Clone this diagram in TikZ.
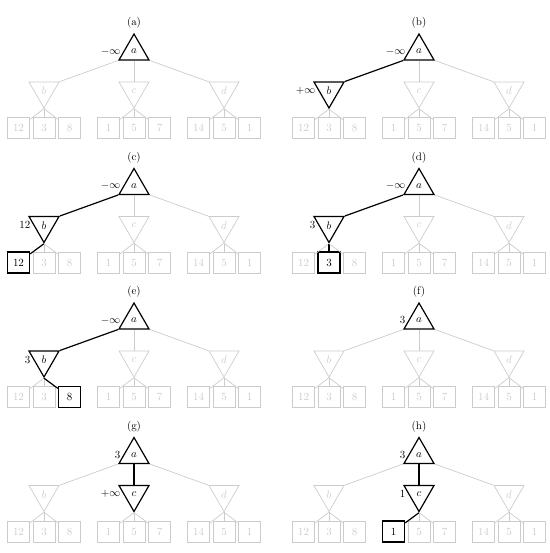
\documentclass[tikz,border=0pt,11pt]{standalone}
\usetikzlibrary{shapes.geometric}

\definecolor{faded}{gray}{0.80}

\tikzset{
  maxnode/.style={regular polygon, regular polygon sides=3, minimum size=34.6pt,
    inner sep=0pt, draw=faded, text=faded, line width=0.7pt},
  minnode/.style={maxnode, shape border rotate=180},
  leafbox/.style={rectangle, draw=faded, text=faded, minimum width=22pt,
    minimum height=21pt, inner sep=0pt, line width=0.7pt},
  link/.style={draw=faded, line width=0.7pt},
  hot/.style={draw=black, text=black, line width=1.2pt},
  every label/.style={text=black, inner sep=2.8pt},
  % per-panel hooks, empty unless a panel highlights the element
  tri a/.style={}, tri b/.style={}, tri c/.style={}, tri d/.style={},
  link ab/.style={}, link ac/.style={}, link ad/.style={},
  link 1/.style={}, link 2/.style={}, link 3/.style={},
  link 4/.style={}, link 5/.style={}, link 6/.style={},
  link 7/.style={}, link 8/.style={}, link 9/.style={},
  leaf 1/.style={}, leaf 2/.style={}, leaf 3/.style={},
  leaf 4/.style={}, leaf 5/.style={}, leaf 6/.style={},
  leaf 7/.style={}, leaf 8/.style={}, leaf 9/.style={},
}

% one game tree with its caption
\newcommand\gametree[1]{%
  \node (title) at (134,23) {(#1)};
  \node[maxnode, tri a] (a) at (134,51.3) {$a$};
  \node[minnode, tri b] (b) at (44,90.7) {$b$};
  \node[minnode, tri c] (c) at (134,90.7) {$c$};
  \node[minnode, tri d] (d) at (224,90.7) {$d$};
  \node[leafbox, leaf 1] (v1) at (18.5,128) {12};
  \node[leafbox, leaf 2] (v2) at (44,128) {3};
  \node[leafbox, leaf 3] (v3) at (69.5,128) {8};
  \node[leafbox, leaf 4] (v4) at (108.5,128) {1};
  \node[leafbox, leaf 5] (v5) at (134,128) {5};
  \node[leafbox, leaf 6] (v6) at (159.5,128) {7};
  \node[leafbox, leaf 7] (v7) at (198.5,128) {14};
  \node[leafbox, leaf 8] (v8) at (224,128) {5};
  \node[leafbox, leaf 9] (v9) at (249.5,128) {1};
  \draw[link, link ab] (a.corner 2) -- (b.corner 2);
  \draw[link, link ac] (a.side 2) -- (c.side 2);
  \draw[link, link ad] (a.corner 3) -- (d.corner 3);
  \draw[link, link 1] (b.corner 1) -- (v1);
  \draw[link, link 2] (b.corner 1) -- (v2);
  \draw[link, link 3] (b.corner 1) -- (v3);
  \draw[link, link 4] (c.corner 1) -- (v4);
  \draw[link, link 5] (c.corner 1) -- (v5);
  \draw[link, link 6] (c.corner 1) -- (v6);
  \draw[link, link 7] (d.corner 1) -- (v7);
  \draw[link, link 8] (d.corner 1) -- (v8);
  \draw[link, link 9] (d.corner 1) -- (v9);
}

\begin{document}
\begin{tikzpicture}[x=1pt, y=-1pt]
  \useasboundingbox (0,0) rectangle (549,553);

  \begin{scope}[name prefix=pa-]
    \tikzset{tri a/.style={hot, label=left:$-\infty$}}
    \gametree{a}
  \end{scope}

  \begin{scope}[name prefix=pb-, shift={(285,0)}]
    \tikzset{tri a/.style={hot, label=left:$-\infty$}, link ab/.style=hot,
      tri b/.style={hot, label=left:$+\infty$}}
    \gametree{b}
  \end{scope}

  \begin{scope}[name prefix=pc-, shift={(0,134.5)}]
    \tikzset{tri a/.style={hot, label=left:$-\infty$}, link ab/.style=hot,
      tri b/.style={hot, label=left:12}, link 1/.style=hot, leaf 1/.style=hot}
    \gametree{c}
  \end{scope}

  \begin{scope}[name prefix=pd-, shift={(285,134.5)}]
    \tikzset{tri a/.style={hot, label=left:$-\infty$}, link ab/.style=hot,
      tri b/.style={hot, label=left:3}, link 2/.style=hot, leaf 2/.style=hot}
    \gametree{d}
  \end{scope}

  \begin{scope}[name prefix=pe-, shift={(0,269)}]
    \tikzset{tri a/.style={hot, label=left:$-\infty$}, link ab/.style=hot,
      tri b/.style={hot, label=left:3}, link 3/.style=hot, leaf 3/.style=hot}
    \gametree{e}
  \end{scope}

  \begin{scope}[name prefix=pf-, shift={(285,269)}]
    \tikzset{tri a/.style={hot, label=left:3}}
    \gametree{f}
  \end{scope}

  \begin{scope}[name prefix=pg-, shift={(0,403.5)}]
    \tikzset{tri a/.style={hot, label=left:3}, link ac/.style=hot,
      tri c/.style={hot, label=left:$+\infty$}}
    \gametree{g}
  \end{scope}

  \begin{scope}[name prefix=ph-, shift={(285,403.5)}]
    \tikzset{tri a/.style={hot, label=left:3}, link ac/.style=hot,
      tri c/.style={hot, label=left:1}, link 4/.style=hot, leaf 4/.style=hot}
    \gametree{h}
  \end{scope}
\end{tikzpicture}
\end{document}
